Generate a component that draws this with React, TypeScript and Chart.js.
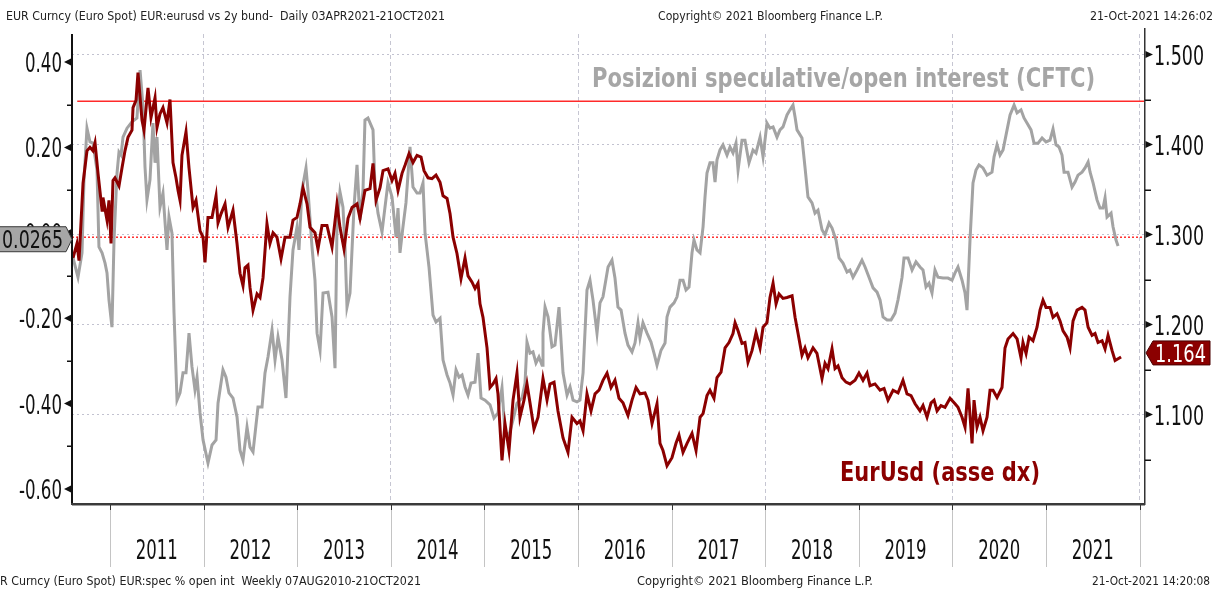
import React, { useEffect, useRef } from 'react';
import { Chart, registerables } from 'chart.js';
Chart.register(...registerables);

const FONT = '"DejaVu Sans Condensed", "DejaVu Sans", sans-serif';

// EUR/USD (right axis) — decimal years
const eurDates = [
  2010.605, 2010.647, 2010.669, 2010.712, 2010.754, 2010.786, 2010.818, 2010.840, 2010.872, 2010.915,
  2010.925, 2010.968, 2010.989, 2011.011, 2011.032, 2011.053, 2011.096, 2011.128, 2011.160, 2011.192,
  2011.235, 2011.246, 2011.278, 2011.299, 2011.342, 2011.363, 2011.406, 2011.438, 2011.481, 2011.502,
  2011.534, 2011.566, 2011.609, 2011.641, 2011.673, 2011.705, 2011.727, 2011.748, 2011.769, 2011.812,
  2011.844, 2011.887, 2011.919, 2011.962, 2011.994, 2012.015, 2012.047, 2012.090, 2012.133, 2012.154,
  2012.186, 2012.229, 2012.261, 2012.314, 2012.357, 2012.389, 2012.421, 2012.442, 2012.474, 2012.496,
  2012.528, 2012.571, 2012.603, 2012.635, 2012.677, 2012.709, 2012.742, 2012.784, 2012.827, 2012.870,
  2012.923, 2012.955, 2012.998, 2013.030, 2013.062, 2013.105, 2013.137, 2013.190, 2013.222, 2013.265,
  2013.318, 2013.372, 2013.425, 2013.457, 2013.500, 2013.543, 2013.586, 2013.639, 2013.671, 2013.724,
  2013.778, 2013.810, 2013.842, 2013.885, 2013.917, 2013.970, 2014.013, 2014.045, 2014.077, 2014.120,
  2014.152, 2014.195, 2014.237, 2014.280, 2014.323, 2014.355, 2014.398, 2014.440, 2014.483, 2014.526,
  2014.558, 2014.601, 2014.633, 2014.665, 2014.707, 2014.750, 2014.793, 2014.825, 2014.868, 2014.900,
  2014.932, 2014.953, 2014.985, 2015.028, 2015.060, 2015.092, 2015.124, 2015.145, 2015.188, 2015.220,
  2015.263, 2015.306, 2015.348, 2015.380, 2015.423, 2015.455, 2015.487, 2015.530, 2015.573, 2015.626,
  2015.669, 2015.701, 2015.744, 2015.786, 2015.840, 2015.893, 2015.936, 2015.989, 2016.021, 2016.054,
  2016.096, 2016.139, 2016.182, 2016.224, 2016.267, 2016.310, 2016.353, 2016.395, 2016.438, 2016.481,
  2016.534, 2016.577, 2016.620, 2016.662, 2016.716, 2016.748, 2016.791, 2016.844, 2016.876, 2016.908,
  2016.951, 2017.004, 2017.047, 2017.079, 2017.122, 2017.165, 2017.218, 2017.261, 2017.304, 2017.336,
  2017.378, 2017.410, 2017.453, 2017.485, 2017.528, 2017.571, 2017.613, 2017.656, 2017.678, 2017.710,
  2017.752, 2017.784, 2017.816, 2017.859, 2017.902, 2017.945, 2017.977, 2018.019, 2018.051, 2018.084,
  2018.116, 2018.148, 2018.190, 2018.233, 2018.287, 2018.319, 2018.351, 2018.393, 2018.425, 2018.457,
  2018.511, 2018.553, 2018.607, 2018.639, 2018.671, 2018.714, 2018.746, 2018.778, 2018.821, 2018.863,
  2018.906, 2018.960, 2019.002, 2019.045, 2019.088, 2019.120, 2019.173, 2019.227, 2019.270, 2019.312,
  2019.366, 2019.419, 2019.472, 2019.515, 2019.558, 2019.601, 2019.654, 2019.686, 2019.729, 2019.772,
  2019.804, 2019.836, 2019.878, 2019.921, 2019.975, 2020.028, 2020.060, 2020.103, 2020.135, 2020.167,
  2020.210, 2020.231, 2020.263, 2020.295, 2020.327, 2020.370, 2020.402, 2020.434, 2020.477, 2020.530,
  2020.562, 2020.594, 2020.648, 2020.691, 2020.733, 2020.754, 2020.787, 2020.819, 2020.861, 2020.904,
  2020.936, 2020.968, 2021.000, 2021.043, 2021.075, 2021.118, 2021.150, 2021.182, 2021.225, 2021.257,
  2021.289, 2021.332, 2021.385, 2021.417, 2021.450, 2021.492, 2021.524, 2021.556, 2021.599, 2021.631,
  2021.663, 2021.706, 2021.738, 2021.770, 2021.802,
];
const eurValues = [
  1.274, 1.290, 1.271, 1.357, 1.393, 1.397, 1.393, 1.402, 1.368, 1.327,
  1.341, 1.316, 1.338, 1.290, 1.360, 1.363, 1.354, 1.374, 1.393, 1.408,
  1.416, 1.441, 1.449, 1.480, 1.427, 1.416, 1.463, 1.430, 1.452, 1.419,
  1.434, 1.441, 1.424, 1.450, 1.380, 1.363, 1.349, 1.338, 1.388, 1.414,
  1.374, 1.330, 1.338, 1.304, 1.297, 1.269, 1.319, 1.319, 1.343, 1.313,
  1.323, 1.334, 1.308, 1.327, 1.290, 1.257, 1.243, 1.263, 1.266, 1.241,
  1.216, 1.234, 1.230, 1.252, 1.312, 1.290, 1.302, 1.297, 1.273, 1.297,
  1.297, 1.316, 1.319, 1.334, 1.352, 1.334, 1.308, 1.302, 1.284, 1.310,
  1.310, 1.286, 1.334, 1.308, 1.284, 1.318, 1.330, 1.334, 1.318, 1.349,
  1.351, 1.379, 1.338, 1.352, 1.371, 1.373, 1.360, 1.368, 1.349, 1.368,
  1.377, 1.390, 1.380, 1.388, 1.386, 1.371, 1.363, 1.362, 1.366, 1.358,
  1.343, 1.340, 1.323, 1.297, 1.279, 1.251, 1.274, 1.254, 1.247, 1.240,
  1.246, 1.223, 1.208, 1.174, 1.130, 1.134, 1.140, 1.123, 1.049, 1.090,
  1.060, 1.116, 1.146, 1.097, 1.116, 1.134, 1.113, 1.084, 1.097, 1.140,
  1.116, 1.134, 1.136, 1.104, 1.074, 1.058, 1.097, 1.090, 1.093, 1.082,
  1.123, 1.104, 1.123, 1.127, 1.138, 1.146, 1.130, 1.138, 1.118, 1.113,
  1.099, 1.116, 1.130, 1.123, 1.124, 1.116, 1.090, 1.112, 1.068, 1.060,
  1.043, 1.052, 1.068, 1.077, 1.058, 1.068, 1.079, 1.060, 1.097, 1.101,
  1.121, 1.127, 1.118, 1.141, 1.147, 1.174, 1.180, 1.190, 1.202, 1.193,
  1.179, 1.180, 1.158, 1.171, 1.191, 1.174, 1.197, 1.202, 1.230, 1.246,
  1.223, 1.234, 1.229, 1.230, 1.232, 1.208, 1.190, 1.166, 1.174, 1.163,
  1.174, 1.168, 1.140, 1.157, 1.151, 1.173, 1.151, 1.154, 1.141, 1.136,
  1.134, 1.138, 1.146, 1.138, 1.146, 1.132, 1.134, 1.127, 1.129, 1.116,
  1.127, 1.124, 1.138, 1.123, 1.121, 1.112, 1.104, 1.110, 1.097, 1.113,
  1.116, 1.104, 1.110, 1.108, 1.118, 1.112, 1.108, 1.097, 1.086, 1.129,
  1.068, 1.116, 1.086, 1.097, 1.082, 1.097, 1.127, 1.127, 1.119, 1.130,
  1.174, 1.184, 1.190, 1.184, 1.163, 1.180, 1.168, 1.186, 1.182, 1.197,
  1.216, 1.227, 1.219, 1.219, 1.208, 1.212, 1.204, 1.193, 1.186, 1.174,
  1.204, 1.216, 1.219, 1.216, 1.197, 1.188, 1.190, 1.180, 1.182, 1.173,
  1.188, 1.171, 1.160, 1.162, 1.164,
];

// Speculative positions / open interest (CFTC) (left axis) — decimal years
const cftcDates = [
  2010.605, 2010.658, 2010.701, 2010.722, 2010.754, 2010.786, 2010.818, 2010.861, 2010.882, 2010.915,
  2010.947, 2010.968, 2010.989, 2011.021, 2011.043, 2011.075, 2011.096, 2011.118, 2011.139, 2011.182,
  2011.235, 2011.288, 2011.321, 2011.353, 2011.374, 2011.395, 2011.427, 2011.459, 2011.481, 2011.502,
  2011.534, 2011.566, 2011.609, 2011.630, 2011.662, 2011.684, 2011.716, 2011.748, 2011.780, 2011.812,
  2011.844, 2011.876, 2011.908, 2011.930, 2011.962, 2011.994, 2012.047, 2012.090, 2012.133, 2012.154,
  2012.207, 2012.239, 2012.271, 2012.314, 2012.357, 2012.389, 2012.421, 2012.464, 2012.496, 2012.528,
  2012.581, 2012.624, 2012.656, 2012.688, 2012.731, 2012.763, 2012.795, 2012.838, 2012.880, 2012.923,
  2012.955, 2012.998, 2013.019, 2013.051, 2013.094, 2013.115, 2013.158, 2013.190, 2013.212, 2013.244,
  2013.276, 2013.329, 2013.372, 2013.404, 2013.425, 2013.457, 2013.489, 2013.511, 2013.532, 2013.564,
  2013.607, 2013.639, 2013.671, 2013.703, 2013.724, 2013.756, 2013.810, 2013.831, 2013.863, 2013.906,
  2013.938, 2013.970, 2014.013, 2014.056, 2014.077, 2014.098, 2014.130, 2014.162, 2014.205, 2014.237,
  2014.280, 2014.312, 2014.344, 2014.366, 2014.408, 2014.451, 2014.483, 2014.526, 2014.558, 2014.601,
  2014.633, 2014.665, 2014.697, 2014.729, 2014.761, 2014.793, 2014.825, 2014.857, 2014.900, 2014.932,
  2014.964, 2015.007, 2015.060, 2015.103, 2015.145, 2015.188, 2015.220, 2015.263, 2015.306, 2015.348,
  2015.402, 2015.434, 2015.455, 2015.487, 2015.519, 2015.551, 2015.583, 2015.616, 2015.626, 2015.648,
  2015.680, 2015.722, 2015.754, 2015.797, 2015.840, 2015.883, 2015.915, 2015.947, 2015.989, 2016.021,
  2016.054, 2016.096, 2016.128, 2016.160, 2016.203, 2016.235, 2016.267, 2016.321, 2016.363, 2016.395,
  2016.427, 2016.460, 2016.502, 2016.534, 2016.577, 2016.609, 2016.641, 2016.662, 2016.694, 2016.737,
  2016.780, 2016.812, 2016.844, 2016.887, 2016.930, 2016.951, 2016.983, 2017.026, 2017.058, 2017.090,
  2017.122, 2017.154, 2017.186, 2017.218, 2017.239, 2017.271, 2017.304, 2017.336, 2017.357, 2017.378,
  2017.410, 2017.442, 2017.464, 2017.485, 2017.517, 2017.549, 2017.592, 2017.624, 2017.656, 2017.688,
  2017.710, 2017.752, 2017.784, 2017.827, 2017.870, 2017.902, 2017.945, 2017.977, 2018.019, 2018.051,
  2018.084, 2018.126, 2018.158, 2018.190, 2018.233, 2018.265, 2018.297, 2018.319, 2018.340, 2018.393,
  2018.425, 2018.457, 2018.500, 2018.532, 2018.564, 2018.607, 2018.639, 2018.682, 2018.714, 2018.757,
  2018.789, 2018.831, 2018.874, 2018.906, 2018.938, 2018.981, 2019.034, 2019.067, 2019.109, 2019.152,
  2019.195, 2019.227, 2019.259, 2019.302, 2019.344, 2019.387, 2019.419, 2019.462, 2019.483, 2019.526,
  2019.569, 2019.611, 2019.654, 2019.686, 2019.718, 2019.750, 2019.782, 2019.814, 2019.846, 2019.900,
  2019.953, 2019.996, 2020.028, 2020.060, 2020.103, 2020.135, 2020.156, 2020.188, 2020.220, 2020.252,
  2020.284, 2020.327, 2020.370, 2020.423, 2020.445, 2020.477, 2020.509, 2020.541, 2020.584, 2020.616,
  2020.659, 2020.691, 2020.733, 2020.765, 2020.797, 2020.840, 2020.872, 2020.915, 2020.958, 2021.000,
  2021.043, 2021.075, 2021.107, 2021.139, 2021.171, 2021.193, 2021.235, 2021.278, 2021.310, 2021.342,
  2021.385, 2021.417, 2021.450, 2021.471, 2021.503, 2021.545, 2021.577, 2021.609, 2021.631, 2021.652,
  2021.695, 2021.716, 2021.748, 2021.770,
];
const cftcValues = [
  -0.059, -0.104, -0.047, 0.124, 0.245, 0.213, 0.210, 0.147, -0.033, -0.047,
  -0.071, -0.094, -0.157, -0.221, -0.017, 0.140, 0.189, 0.182, 0.224, 0.245,
  0.260, 0.269, 0.381, 0.295, 0.154, 0.077, 0.124, 0.257, 0.164, 0.224,
  0.060, 0.093, -0.040, 0.037, -0.001, -0.188, -0.392, -0.375, -0.328, -0.328,
  -0.235, -0.314, -0.368, -0.338, -0.422, -0.485, -0.539, -0.497, -0.485, -0.399,
  -0.321, -0.338, -0.375, -0.387, -0.431, -0.509, -0.532, -0.455, -0.502, -0.513,
  -0.408, -0.408, -0.328, -0.291, -0.228, -0.298, -0.244, -0.298, -0.387, -0.150,
  -0.040, 0.014, -0.040, 0.100, 0.152, 0.100, -0.033, -0.111, -0.235, -0.275,
  -0.141, -0.139, -0.197, -0.317, 0.014, 0.096, 0.060, -0.033, -0.174, -0.141,
  0.060, 0.159, 0.030, 0.100, 0.264, 0.269, 0.241, 0.107, 0.046, 0.002,
  0.060, 0.117, 0.084, -0.010, 0.058, -0.047, 0.014, 0.070, 0.201, 0.107,
  0.093, 0.093, 0.117, -0.001, -0.080, -0.193, -0.209, -0.200, -0.298, -0.333,
  -0.352, -0.380, -0.321, -0.338, -0.333, -0.361, -0.380, -0.352, -0.350, -0.282,
  -0.387, -0.392, -0.403, -0.434, -0.422, -0.363, -0.467, -0.474, -0.438, -0.399,
  -0.387, -0.352, -0.256, -0.282, -0.279, -0.305, -0.291, -0.310, -0.235, -0.174,
  -0.197, -0.267, -0.263, -0.174, -0.328, -0.380, -0.361, -0.392, -0.396, -0.392,
  -0.328, -0.134, -0.111, -0.157, -0.235, -0.164, -0.150, -0.080, -0.064, -0.106,
  -0.174, -0.181, -0.235, -0.263, -0.279, -0.258, -0.211, -0.246, -0.211, -0.235,
  -0.256, -0.282, -0.310, -0.275, -0.258, -0.197, -0.174, -0.164, -0.150, -0.111,
  -0.111, -0.134, -0.127, -0.047, -0.017, -0.040, -0.047, 0.014, 0.084, 0.140,
  0.164, 0.164, 0.119, 0.171, 0.194, 0.206, 0.182, 0.201, 0.187, 0.210,
  0.147, 0.217, 0.217, 0.164, 0.194, 0.187, 0.224, 0.178, 0.257, 0.245,
  0.248, 0.224, 0.241, 0.248, 0.276, 0.288, 0.299, 0.271, 0.241, 0.222,
  0.154, 0.084, 0.070, 0.046, 0.053, 0.007, -0.005, 0.023, 0.011, -0.017,
  -0.059, -0.071, -0.092, -0.087, -0.104, -0.087, -0.064, -0.080, -0.104, -0.129,
  -0.139, -0.157, -0.197, -0.204, -0.204, -0.188, -0.157, -0.104, -0.059, -0.059,
  -0.087, -0.068, -0.080, -0.087, -0.127, -0.118, -0.141, -0.087, -0.104, -0.106,
  -0.106, -0.111, -0.094, -0.080, -0.111, -0.141, -0.181, -0.017, 0.117, 0.147,
  0.159, 0.152, 0.135, 0.142, 0.178, 0.206, 0.182, 0.194, 0.241, 0.276,
  0.299, 0.281, 0.288, 0.269, 0.257, 0.241, 0.210, 0.210, 0.222, 0.213,
  0.217, 0.243, 0.206, 0.201, 0.182, 0.142, 0.142, 0.107, 0.119, 0.135,
  0.142, 0.152, 0.166, 0.142, 0.117, 0.077, 0.058, 0.058, 0.082, 0.037,
  0.046, 0.014, -0.017, -0.031,
];

const yearLabels = ['2011', '2012', '2013', '2014', '2015', '2016', '2017', '2018', '2019', '2020', '2021'];
const yearBounds = [2011, 2012, 2013, 2014, 2015, 2016, 2017, 2018, 2019, 2020, 2021, 2022];
const gridYears = [2012, 2014, 2016, 2018, 2020, 2022];
const leftTicks = [0.4, 0.2, 0, -0.2, -0.4, -0.6];
const leftTickLabels = ['0.40', '0.20', '0.00', '-0.20', '-0.40', '-0.60'];
const leftMinor = [0.3, 0.1, -0.1, -0.3, -0.5];
const rightTicks = [1.5, 1.4, 1.3, 1.2, 1.1];
const rightTickLabels = ['1.500', '1.400', '1.300', '1.200', '1.100'];
const rightMinor = [1.45, 1.35, 1.25, 1.15, 1.05];
const upperLevel = 1.448;
const dottedLevel = 1.297;
const lastSpecLabel = '0.0265';
const lastEurLabel = '1.164';
const lastEurValue = 1.164;

const X_MIN = 2010.594;
const X_MAX = 2022.047;
const L_MIN = -0.6328;
const L_MAX = 0.4656;
const R_MIN = 1.0017;
const R_MAX = 1.5228;

function drawScaled(ctx: CanvasRenderingContext2D, text: string, x: number, baseline: number, font: string, color: string, sx: number, align: string) {
  ctx.save();
  ctx.font = font;
  ctx.fillStyle = color;
  ctx.textAlign = 'left';
  ctx.textBaseline = 'alphabetic';
  const w = ctx.measureText(text).width * sx;
  const x0 = align === 'right' ? x - w : align === 'center' ? x - w / 2 : x;
  ctx.translate(x0, baseline);
  ctx.scale(sx, 1);
  ctx.fillText(text, 0, 0);
  ctx.restore();
}
function scaleFor(ctx: CanvasRenderingContext2D, font: string, sample: string, width: number) {
  ctx.save();
  ctx.font = font;
  const w = ctx.measureText(sample).width;
  ctx.restore();
  return width / w;
}
function fitText(ctx: CanvasRenderingContext2D, text: string, x: number, baseline: number, width: number, font: string, color: string) {
  drawScaled(ctx, text, x, baseline, font, color, scaleFor(ctx, font, text, width), 'left');
}

const decorPlugin = {
  id: 'decor',
  afterDraw(chart: any) {
    const ctx: CanvasRenderingContext2D = chart.ctx;
    const { left, right, top, bottom } = chart.chartArea;
    const xs = chart.scales.x;
    const yl = chart.scales.yL;
    const yr = chart.scales.yR;
    ctx.save();

    // axis lines
    ctx.fillStyle = '#111';
    ctx.fillRect(left - 1, top, 2, bottom - top + 2);
    ctx.fillStyle = '#333';
    ctx.fillRect(right, 28, 1.5, bottom - 28 + 2);
    ctx.fillStyle = '#3a3a3a';
    ctx.fillRect(left - 1, bottom, right - left + 2, 2);
    ctx.fillStyle = '#a0a0a0';
    ctx.fillRect(left, bottom + 2, right - left + 1, 1);

    // left ticks
    ctx.fillStyle = '#111';
    leftTicks.forEach((v) => {
      const y = yl.getPixelForValue(v);
      ctx.beginPath();
      ctx.moveTo(left - 8, y);
      ctx.lineTo(left - 1, y - 3.5);
      ctx.lineTo(left - 1, y + 3.5);
      ctx.closePath();
      ctx.fill();
    });
    leftMinor.forEach((v) => {
      const y = Math.round(yl.getPixelForValue(v));
      ctx.fillRect(left - 5, y - 0.5, 5, 1.5);
    });
    // right ticks
    rightTicks.forEach((v) => {
      const y = yr.getPixelForValue(v);
      ctx.beginPath();
      ctx.moveTo(right + 9, y);
      ctx.lineTo(right + 1.5, y - 3.5);
      ctx.lineTo(right + 1.5, y + 3.5);
      ctx.closePath();
      ctx.fill();
    });
    rightMinor.forEach((v) => {
      const y = Math.round(yr.getPixelForValue(v));
      ctx.fillRect(right + 1, y - 0.5, 6, 1.5);
    });

    // tick labels
    const tickFont = `26px ${FONT}`;
    const sxL = scaleFor(ctx, tickFont, '0.40', 37);
    leftTicks.forEach((v, i) => {
      drawScaled(ctx, leftTickLabels[i], left - 10, yl.getPixelForValue(v) + 10, tickFont, '#111', sxL, 'right');
    });
    const sxR = scaleFor(ctx, tickFont, '1.500', 50);
    rightTicks.forEach((v, i) => {
      drawScaled(ctx, rightTickLabels[i], right + 10, yr.getPixelForValue(v) + 10.5, tickFont, '#111', sxR, 'left');
    });

    // x axis: separators, small ticks and year labels
    yearBounds.forEach((yv) => {
      const x = Math.round(xs.getPixelForValue(yv)) + 0.5;
      ctx.strokeStyle = '#c4c4c4';
      ctx.lineWidth = 1;
      ctx.beginPath();
      ctx.moveTo(x, bottom + 3);
      ctx.lineTo(x, 567);
      ctx.stroke();
      ctx.strokeStyle = '#333';
      ctx.beginPath();
      ctx.moveTo(x, bottom + 2);
      ctx.lineTo(x, bottom + 7);
      ctx.stroke();
    });
    const yearFont = `27px ${FONT}`;
    const sxY = scaleFor(ctx, yearFont, '2011', 42);
    yearLabels.forEach((lab, i) => {
      drawScaled(ctx, lab, xs.getPixelForValue(yearBounds[i] + 0.5), 559, yearFont, '#111', sxY, 'center');
    });

    // header & footer
    const smallFont = `13px ${FONT}`;
    fitText(ctx, 'EUR Curncy (Euro Spot) EUR:eurusd vs 2y bund-  Daily 03APR2021-21OCT2021', 6, 20, 439, smallFont, '#222');
    fitText(ctx, 'Copyright© 2021 Bloomberg Finance L.P.', 658, 20, 225, smallFont, '#222');
    fitText(ctx, '21-Oct-2021 14:26:02', 1090, 20, 123, smallFont, '#222');
    fitText(ctx, 'R Curncy (Euro Spot) EUR:spec % open int  Weekly 07AUG2010-21OCT2021', 0, 585, 421, smallFont, '#222');
    fitText(ctx, 'Copyright© 2021 Bloomberg Finance L.P.', 637, 585, 236, smallFont, '#222');
    fitText(ctx, '21-Oct-2021 14:20:08', 1092, 585, 118, smallFont, '#222');

    // annotations
    const annFont = `bold 27px ${FONT}`;
    fitText(ctx, 'Posizioni speculative/open interest (CFTC)', 592, 87, 503, annFont, '#a6a6a6');
    fitText(ctx, 'EurUsd (asse dx)', 840, 481, 200, annFont, '#8b0000');

    // left callout (last CFTC value)
    const cy = yr.getPixelForValue(dottedLevel) + 2;
    ctx.beginPath();
    ctx.moveTo(-1, cy - 12.5);
    ctx.lineTo(left - 6, cy - 12.5);
    ctx.lineTo(left, cy);
    ctx.lineTo(left - 6, cy + 12.5);
    ctx.lineTo(-1, cy + 12.5);
    ctx.closePath();
    ctx.fillStyle = '#a6a6a6';
    ctx.fill();
    ctx.strokeStyle = '#3a3a3a';
    ctx.lineWidth = 1;
    ctx.stroke();
    fitText(ctx, lastSpecLabel, 2, cy + 9, 61, `25px ${FONT}`, '#111');

    // right callout (last EUR/USD value)
    const ry = yr.getPixelForValue(lastEurValue) - 4;
    ctx.beginPath();
    ctx.moveTo(right + 2, ry);
    ctx.lineTo(right + 9, ry - 12);
    ctx.lineTo(1210, ry - 12);
    ctx.lineTo(1210, ry + 12);
    ctx.lineTo(right + 9, ry + 12);
    ctx.closePath();
    ctx.fillStyle = '#8b0000';
    ctx.fill();
    ctx.strokeStyle = '#4a0000';
    ctx.stroke();
    fitText(ctx, lastEurLabel, 1155, ry + 9, 51, `25px ${FONT}`, '#ffffff');

    ctx.restore();
  },
};

export default function App() {
  const ref = useRef<HTMLCanvasElement>(null);
  useEffect(() => {
    document.body.style.margin = '0';
    const canvas = ref.current;
    if (!canvas) return;
    const chart = new Chart(canvas, {
      type: 'line',
      data: {
        datasets: [
          {
            label: 'EurUsd',
            data: eurDates.map((x, i) => ({ x, y: eurValues[i] })),
            yAxisID: 'yR',
            borderColor: '#8b0000',
            borderWidth: 3,
            pointRadius: 0,
            tension: 0,
          },
          {
            label: 'CFTC',
            data: cftcDates.map((x, i) => ({ x, y: cftcValues[i] })),
            yAxisID: 'yL',
            borderColor: '#a3a3a3',
            borderWidth: 3,
            pointRadius: 0,
            tension: 0,
          },
          {
            label: 'upper',
            data: [{ x: 2010.65, y: upperLevel }, { x: X_MAX, y: upperLevel }],
            yAxisID: 'yR',
            borderColor: '#ff2a2a',
            borderWidth: 1.5,
            pointRadius: 0,
          },
          {
            label: 'dotted',
            data: [{ x: X_MIN, y: dottedLevel }, { x: X_MAX, y: dottedLevel }],
            yAxisID: 'yR',
            borderColor: '#ff3030',
            borderWidth: 1.5,
            borderDash: [2, 2],
            pointRadius: 0,
          },
        ],
      },
      options: {
        responsive: false,
        animation: false,
        devicePixelRatio: 1,
        layout: { padding: { top: 34, left: 0, right: 0, bottom: 0 } },
        plugins: { legend: { display: false }, tooltip: { enabled: false } },
        scales: {
          x: {
            type: 'linear',
            min: X_MIN,
            max: X_MAX,
            afterFit: (s: any) => { s.height = 86; },
            afterBuildTicks: (s: any) => { s.ticks = gridYears.map((v) => ({ value: v })); },
            ticks: { display: false },
            grid: { color: '#c6c6d2', lineWidth: 1, drawTicks: false },
            border: { display: false, dash: [4, 3] },
          },
          yL: {
            type: 'linear',
            position: 'left',
            min: L_MIN,
            max: L_MAX,
            afterFit: (s: any) => { s.width = 72; },
            ticks: { display: false },
            grid: { display: false },
            border: { display: false },
          },
          yR: {
            type: 'linear',
            position: 'right',
            min: R_MIN,
            max: R_MAX,
            afterFit: (s: any) => { s.width = 75; },
            afterBuildTicks: (s: any) => { s.ticks = rightTicks.map((v) => ({ value: v })); },
            ticks: { display: false },
            grid: { color: '#c2c2d0', lineWidth: 1, drawTicks: false },
            border: { display: false, dash: [2, 3] },
          },
        },
      } as any,
      plugins: [decorPlugin],
    });
    return () => chart.destroy();
  }, []);
  return (
    <div style={{ width: 1219, height: 589, background: '#ffffff' }}>
      <canvas ref={ref} width={1219} height={589} style={{ display: 'block', width: 1219, height: 589 }} />
    </div>
  );
}
